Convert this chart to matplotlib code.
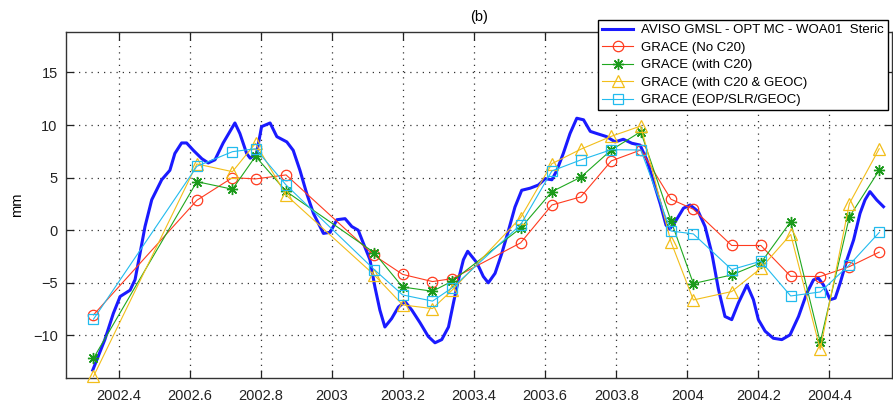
import matplotlib
matplotlib.use("Agg")
import matplotlib.pyplot as plt

plt.rcParams['font.family'] = ['Liberation Sans', 'DejaVu Sans']

# AVISO GMSL minus steric (blue line)
aviso_t = [2002.327, 2002.361, 2002.385, 2002.404, 2002.432, 2002.446, 2002.460, 2002.474,
           2002.493, 2002.521, 2002.544, 2002.558, 2002.577, 2002.591, 2002.610, 2002.634,
           2002.652, 2002.671, 2002.694, 2002.727, 2002.741, 2002.760, 2002.770, 2002.788,
           2002.802, 2002.826, 2002.845, 2002.873, 2002.891, 2002.910, 2002.929, 2002.948,
           2002.976, 2002.995, 2003.014, 2003.037, 2003.056, 2003.074, 2003.088, 2003.107,
           2003.121, 2003.135, 2003.149, 2003.168, 2003.187, 2003.206, 2003.225, 2003.248,
           2003.271, 2003.290, 2003.309, 2003.328, 2003.342, 2003.356, 2003.370, 2003.382,
           2003.408, 2003.426, 2003.440, 2003.459, 2003.478, 2003.497, 2003.515, 2003.534,
           2003.558, 2003.581, 2003.600, 2003.619, 2003.633, 2003.651, 2003.670, 2003.689,
           2003.708, 2003.727, 2003.745, 2003.773, 2003.797, 2003.820, 2003.844, 2003.867,
           2003.886, 2003.905, 2003.924, 2003.940, 2003.950, 2003.966, 2003.989, 2004.008,
           2004.031, 2004.050, 2004.069, 2004.088, 2004.106, 2004.125, 2004.144, 2004.168,
           2004.186, 2004.200, 2004.219, 2004.242, 2004.266, 2004.289, 2004.313, 2004.336,
           2004.355, 2004.369, 2004.383, 2004.402, 2004.416, 2004.430, 2004.449, 2004.468,
           2004.486, 2004.500, 2004.514, 2004.533, 2004.552]
aviso_v = [-13.3, -10.4, -7.9, -6.3, -5.7, -4.7, -2.2, 0.35,
           2.9, 4.8, 5.7, 7.3, 8.3, 8.3, 7.6, 6.8,
           6.4, 6.7, 8.3, 10.2, 9.2, 7.3, 6.85, 7.3,
           9.85, 10.2, 8.9, 8.4, 7.6, 5.7, 3.5, 1.6,
           -0.3, -0.2, 1.0, 1.1, 0.35, 0.0, -1.2, -2.8,
           -5.4, -7.6, -9.2, -8.4, -7.3, -6.8, -7.6, -8.8,
           -10.1, -10.7, -10.4, -9.2, -6.9, -4.7, -2.8, -2.0,
           -3.1, -4.4, -5.0, -4.1, -2.2, 0.0, 2.2, 3.8,
           4.0, 4.3, 4.9, 4.8, 5.7, 7.3, 9.2, 10.65,
           10.5, 9.4, 9.2, 8.9, 8.4, 8.65, 8.27, 8.1,
           6.7, 4.6, 2.5, 0.5, 0.1, 0.8, 2.09, 2.4,
           1.77, 0.35, -2.19, -5.67, -8.2, -8.5, -6.9, -5.2,
           -6.6, -8.5, -9.6, -10.27, -10.4, -9.95, -8.2, -6.0,
           -4.72, -4.56, -5.2, -6.6, -6.46, -5.04, -2.82, -0.92,
           1.6, 2.88, 3.67, 2.88, 2.24]

# GRACE monthly solutions
grace_t = [2002.329, 2002.620, 2002.720, 2002.785, 2002.871, 2003.119, 2003.199, 2003.283,
           2003.339, 2003.531, 2003.619, 2003.700, 2003.786, 2003.869, 2003.954, 2004.017,
           2004.125, 2004.207, 2004.291, 2004.374, 2004.456, 2004.540]
grace_no_c20 = [-8.05, 2.85, 5.0, 4.88, 5.26, -2.4, -4.2, -4.88,
                -4.6, -1.2, 2.4, 3.17, 6.59, 7.63, 2.95, 2.0,
                -1.45, -1.45, -4.38, -4.4, -3.46, -2.08]
grace_c20 = [-12.17, 4.62, 3.9, 7.03, 3.7, -2.13, -5.4, -5.8,
             -4.83, 0.2, 3.67, 5.04, 7.63, 9.37, 0.91, -5.07,
             -4.25, -3.1, 0.82, -10.65, 1.27, 5.7]
grace_c20_geoc = [-13.9, 6.3, 5.57, 8.27, 3.35, -4.25, -7.1, -7.45,
                  -5.67, 1.2, 6.33, 7.7, 8.93, 9.91, -1.1, -6.63,
                  -5.83, -3.61, -0.4, -11.34, 2.53, 7.75]
grace_eop = [-8.46, 6.08, 7.47, 7.75, 4.3, -3.74, -6.15, -6.74,
             -5.46, 0.53, 5.64, 6.68, 7.66, 7.63, -0.07, -0.35,
             -3.74, -2.94, -6.25, -5.87, -3.3, -0.21]

labels = ['AVISO GMSL - OPT MC - WOA01  Steric', 'GRACE (No C20)', 'GRACE (with C20)',
          'GRACE (with C20 & GEOC)', 'GRACE (EOP/SLR/GEOC)']
xticks = [2002.4, 2002.6, 2002.8, 2003, 2003.2, 2003.4, 2003.6, 2003.8, 2004, 2004.2, 2004.4]
xtick_labels = ['2002.4', '2002.6', '2002.8', '2003', '2003.2', '2003.4', '2003.6', '2003.8',
                '2004', '2004.2', '2004.4']
yticks = [-10, -5, 0, 5, 10, 15]

fig = plt.figure(figsize=(8.93, 4.09), dpi=100)
ax = fig.add_axes([66 / 893, 31 / 409, 826 / 893, 346 / 409])

ax.plot(aviso_t, aviso_v, color='#1a1aff', lw=2.2, label=labels[0], zorder=3)
ax.plot(grace_t, grace_no_c20, color='#ff3b1f', lw=0.8, marker='o', ms=7.5,
        mfc='none', mec='#ff3b1f', mew=0.9, label=labels[1], clip_on=False, zorder=4)
ax.plot(grace_t, grace_c20, color='#1fa81f', lw=0.8, marker=(8, 2, 0), ms=8,
        mec='#1a9a1a', mew=1.0, label=labels[2], clip_on=False, zorder=4)
ax.plot(grace_t, grace_c20_geoc, color='#f2be1a', lw=0.8, marker='^', ms=8.5,
        mfc='none', mec='#f2be1a', mew=0.9, label=labels[3], clip_on=False, zorder=4)
ax.plot(grace_t, grace_eop, color='#22bbee', lw=0.8, marker='s', ms=7,
        mfc='none', mec='#22bbee', mew=0.9, label=labels[4], clip_on=False, zorder=4)

ax.set_xlim(2002.2517, 2004.576)
ax.set_ylim(-14.05, 18.85)
ax.set_xticks(xticks)
ax.set_xticklabels(xtick_labels)
ax.set_yticks(yticks)
ax.grid(True, color='#333333', linestyle=(0, (1, 4)), linewidth=0.9)
ax.tick_params(direction='in', length=6, width=0.9, top=True, right=True,
               labelsize=10.5, colors='#222222')
ax.tick_params(axis='x', pad=8)
ax.tick_params(axis='y', pad=6)
for s in ax.spines.values():
    s.set_color('#333333')
    s.set_linewidth(1.0)
ax.set_ylabel('mm', fontsize=10.5, labelpad=6)
ax.set_title('(b)', fontsize=10.5, pad=8)

leg = ax.legend(loc='upper right', bbox_to_anchor=(888 / 893, 1 - 20 / 409),
                bbox_transform=fig.transFigure, fontsize=9.5, frameon=True,
                fancybox=False, framealpha=1, edgecolor='black', handlelength=2.3,
                handletextpad=0.65, labelspacing=0.4, borderpad=0.3, borderaxespad=0)
leg.get_frame().set_linewidth(1.0)
leg.set_zorder(10)

fig.savefig('out.png', dpi=100)
